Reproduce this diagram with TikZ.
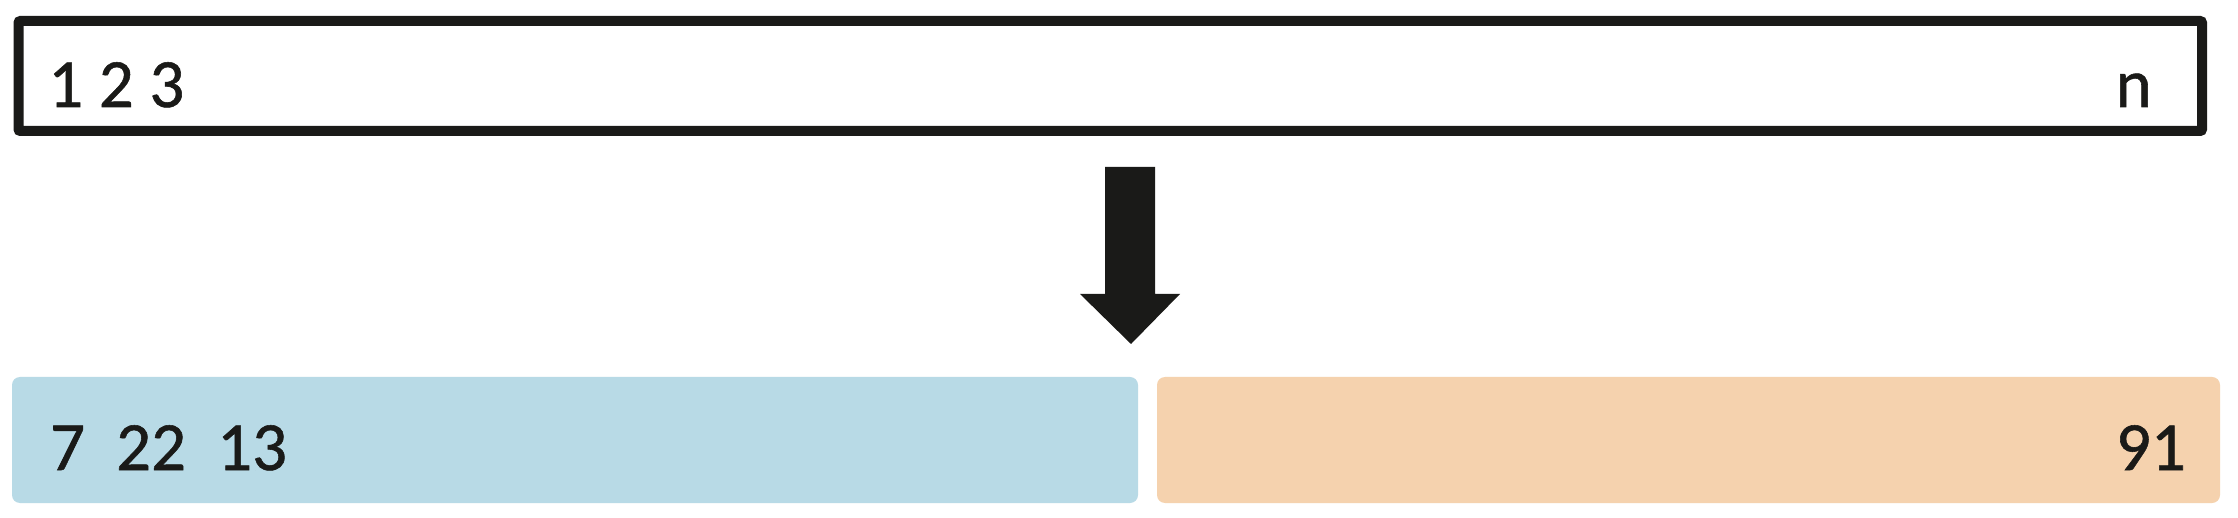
\documentclass[tikz,border=0pt]{standalone}
\usepackage{fontspec}
\setmainfont{Carlito}
\newfontfamily\lblfont{Carlito}[FakeBold=0.8]
\definecolor{ink}{HTML}{1A1A18}
\definecolor{lblue}{HTML}{B8DAE6}
\definecolor{lorange}{HTML}{F5D2AE}
\begin{document}
\begin{tikzpicture}[x=1pt,y=-1pt,
  lbl/.style={inner sep=0pt,text=ink,font=\lblfont\fontsize{69}{80}\selectfont},
  part/.style={rounded corners=8pt}]
\useasboundingbox[fill=white] (0,0) rectangle (2238,518);
% top array
\draw[ink,line width=10pt,rounded corners=2pt] (18.5,21) rectangle (2202,131);
\node[coordinate] (top) at (1130,131) {};
\node[lbl,anchor=base west] (t123) at (48,107) {1 2 3};
\node[lbl,anchor=base east] (tn) at (2152,107) {n};
% arrow
\fill[ink] (1105,167) -- (1155,167) -- (1155,294) -- (1180,294) -- (1131,344)
  -- (1080,294) -- (1105,294) -- cycle;
% bottom parts
\fill[lblue,part] (12,377) rectangle (1138,503);
\fill[lorange,part] (1157,377) rectangle (2220,503);
\node[lbl,anchor=base west] (b1) at (50,470) {7\hspace{31pt}22\hspace{31pt}13};
\node[lbl,anchor=base east] (b2) at (2186,470) {91};
\end{tikzpicture}
\end{document}
